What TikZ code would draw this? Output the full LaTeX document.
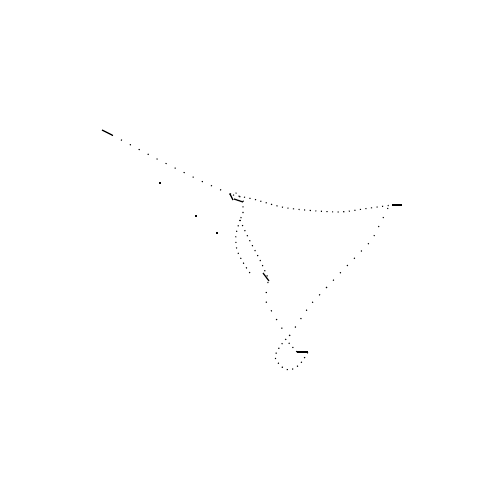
\documentclass[tikz,border=0pt]{standalone}
\begin{document}
\begin{tikzpicture}[x=1pt,y=-1pt,
  trail/.style={line width=1.1pt,dash pattern=on 1.1pt off 9pt,line cap=butt},
  dense/.style={line width=1.1pt,dash pattern=on 1.1pt off 4.5pt},
  solidbit/.style={line width=1.2pt},
  speck/.style={fill=black}]
\useasboundingbox (0,0) rectangle (500,500);
% upper-left tail
\draw[solidbit] (102,130) -- (112,135);
\draw[trail] (112,135) -- (157,159) -- (201,181) -- (232,195);
\fill[speck] (159.4,182.4) rectangle (160.6,183.6);
\fill[speck] (195.4,215.4) rectangle (196.6,216.6);
\fill[speck] (216.4,232.4) rectangle (217.6,233.6);
% small loop
\draw[solidbit] (230,194) -- (233,200);
\draw[dense] (230,194) -- (237,193) -- (243,201) -- (243,213) -- (240,220);
\draw[solidbit] (234,199) -- (243,202);
% two strands down
\draw[dense] plot[smooth] coordinates {(240,220) (236,235) (237,250) (244,264) (252,276)};
\draw[dense] plot[smooth] coordinates {(240,220) (246,233) (252,245) (260,260) (268,278)};
\draw[solidbit] (263,273) -- (269,281);
% top curve
\draw[dense] plot[smooth] coordinates {(233,195) (253,199) (287,208) (337,212) (363,209) (392,205)};
\draw[solidbit] (392,205) -- (402,205);
% right side down
\draw[trail] (388,208) -- (372,240) -- (343,270) -- (310,305) -- (290,335);
% centre strand
\draw[trail] (268,282) -- (265,300) -- (278,322) -- (285,333);
% bottom loop
\draw[dense] plot[smooth] coordinates {(290,335) (281,345) (275,357) (282,367) (290,370) (300,364) (308,352)};
\draw[solidbit] (297,352) -- (308,352);
\draw[dense] (297,352) -- (288,342);
\end{tikzpicture}
\end{document}
